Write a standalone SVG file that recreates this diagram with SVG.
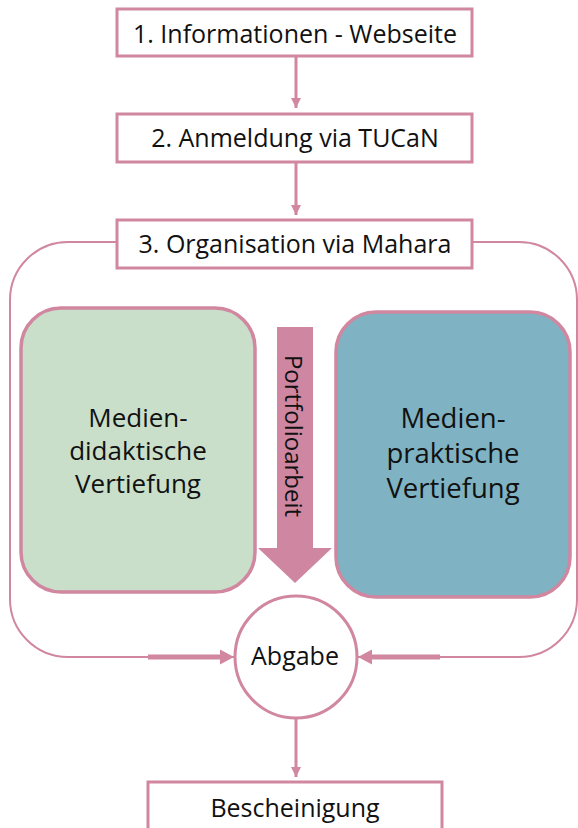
<svg xmlns="http://www.w3.org/2000/svg" width="578" height="828" viewBox="0 0 578 828">
<style>
.t{font-family:"Open Sans","Noto Sans","Liberation Sans",sans-serif;fill:#111;text-anchor:middle}
.box{fill:#fff;stroke:#D0879F;stroke-width:3}
.ln{stroke:#D0879F;stroke-width:3;fill:none}
</style>
<defs>
<marker id="ah" viewBox="0 0 10 10" refX="10" refY="5" markerWidth="10" markerHeight="10" markerUnits="userSpaceOnUse" orient="auto">
<path d="M0,0 L10,5 L0,10 Z" fill="#D0879F"/>
</marker>
</defs>
<rect x="0" y="0" width="578" height="828" fill="#fff"/>
<g id="container">
<rect x="10" y="242" width="567" height="415" rx="58" ry="58" fill="none" stroke="#D0879F" stroke-width="2"/>
</g>
<g id="connectors">
<line class="ln" x1="296" y1="56" x2="296" y2="108" marker-end="url(#ah)"/>
<line class="ln" x1="296" y1="162" x2="296" y2="215" marker-end="url(#ah)"/>
<line class="ln" x1="296" y1="718" x2="296" y2="777" marker-end="url(#ah)"/>
<line x1="148" y1="657" x2="222" y2="657" stroke="#D0879F" stroke-width="5"/>
<path d="M220,649.5 L234,657 L220,664.5 Z" fill="#D0879F"/>
<line x1="440" y1="657" x2="370" y2="657" stroke="#D0879F" stroke-width="5"/>
<path d="M372,649.5 L358,657 L372,664.5 Z" fill="#D0879F"/>
</g>
<g id="n1">
<rect class="box" x="117" y="9" width="355" height="47"/>
<text class="t" x="295" y="43" font-size="25">1. Informationen - Webseite</text>
</g>
<g id="n2">
<rect class="box" x="117" y="114" width="355" height="48"/>
<text class="t" x="295" y="147" font-size="25">2. Anmeldung via TUCaN</text>
</g>
<g id="n3">
<rect class="box" x="117" y="220" width="355" height="48"/>
<text class="t" x="295" y="253" font-size="25">3. Organisation via Mahara</text>
</g>
<g id="n4">
<rect x="21" y="308" width="234" height="284" rx="40" ry="40" fill="#C9DFCA" stroke="#D0879F" stroke-width="3.5"/>
<text class="t" font-size="26"><tspan x="138" y="427">Medien-</tspan><tspan x="138" y="460">didaktische</tspan><tspan x="138" y="493">Vertiefung</tspan></text>
</g>
<g id="n5">
<rect x="336" y="312" width="234" height="285" rx="40" ry="40" fill="#7FB3C3" stroke="#D0879F" stroke-width="3.5"/>
<text class="t" font-size="27.5"><tspan x="453" y="428">Medien-</tspan><tspan x="453" y="463">praktische</tspan><tspan x="453" y="498">Vertiefung</tspan></text>
</g>
<g id="n6">
<path d="M277,327 H313 V548 H332 L295,583 L258,548 H277 Z" fill="#CF87A1"/>
<text class="t" x="0" y="0" font-size="24" dominant-baseline="central" transform="translate(294,436) rotate(90)">Portfolioarbeit</text>
</g>
<g id="n7">
<circle cx="296" cy="657" r="61" fill="#fff" stroke="#D0879F" stroke-width="3"/>
<text class="t" x="295" y="665" font-size="25">Abgabe</text>
</g>
<g id="n8">
<rect class="box" x="148" y="782" width="294" height="60"/>
<text class="t" x="295" y="817" font-size="25">Bescheinigung</text>
</g>
</svg>
